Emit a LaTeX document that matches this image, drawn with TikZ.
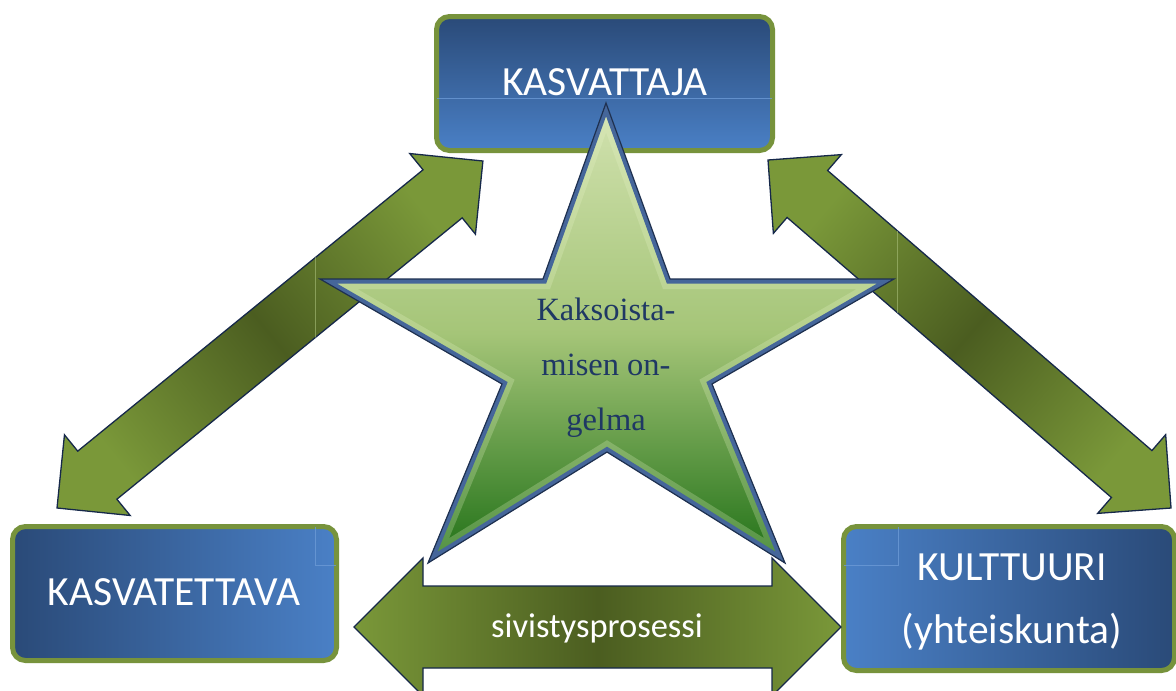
\documentclass[tikz,border=0pt]{standalone}
\usepackage{fontspec}
\setmainfont{Liberation Serif}
\newfontfamily\calib{Carlito}
\definecolor{boxgreen}{HTML}{77933C}
\definecolor{bluedark}{HTML}{2A4A78}
\definecolor{bluelight}{HTML}{4A80C6}
\definecolor{arrlight}{HTML}{7A9839}
\definecolor{arrdark}{HTML}{4B5D20}
\definecolor{arrline}{HTML}{16284A}
\definecolor{startop}{HTML}{D2E2B0}
\definecolor{starmid}{HTML}{A5C578}
\definecolor{starbot}{HTML}{1F7016}
\definecolor{starrim}{HTML}{45669A}
\definecolor{starline}{HTML}{1E3050}
\definecolor{starhi}{HTML}{E8F5C8}
\definecolor{startxt}{HTML}{1F3864}
\definecolor{gloss}{HTML}{6C9AD6}
\definecolor{arrgloss}{HTML}{A9BF7A}
\tikzset{
  boxnode/.style={draw=boxgreen, line width=5pt, rounded corners=13pt, inner sep=0pt, rectangle},
  boxtext/.style={text=white, font=\calib\fontsize{41.5}{48}\selectfont, anchor=base, inner sep=0pt},
  arrowshape/.style={draw=arrline, line width=1.3pt, line join=miter},
  startextstyle/.style={text=startxt, font=\fontsize{32.5}{38}\selectfont, anchor=base, inner sep=0pt},
  glossline/.style={draw=gloss, line width=0.8pt, opacity=0.8},
  arrglossline/.style={draw=arrgloss, line width=0.8pt, opacity=0.6},
}
\begin{document}
\begin{tikzpicture}[x=1pt,y=-1pt]
\fill[white] (0,0) rectangle (1176,691);
\useasboundingbox (0,0) rectangle (1176,691);
\clip (0,0) rectangle (1176,691);

% ---------- boxes ----------
\node[boxnode, minimum width=336pt, minimum height=134pt, top color=bluedark, bottom color=bluelight] (kasvattaja) at (604.5,83.5) {};
\node[boxnode, minimum width=324pt, minimum height=134pt, left color=bluedark, right color=bluelight] (kasvatettava) at (174.5,593.5) {};
\node[boxnode, minimum width=331pt, minimum height=144pt, left color=bluelight, right color=bluedark] (kulttuuri) at (1009,598.5) {};

% faint gloss lines of the boxes
\draw[glossline] (437,98) -- (772,98);
\draw[glossline] (315,527) -- (315,565) -- (336,565);
\draw[glossline] (898,527) -- (898,565) -- (844,565);

% ---------- arrow corner coordinates ----------
\begin{scope}[shift={(57,508)}, rotate=39.17]
  \coordinate (la0) at (0,0);
  \coordinate (la1) at (52,52);
  \coordinate (la2) at (52,31);
  \coordinate (la3) at (497.4,31);
  \coordinate (la4) at (497.4,52);
  \coordinate (la5) at (549.4,0);
  \coordinate (la6) at (497.4,-52);
  \coordinate (la7) at (497.4,-31);
  \coordinate (la8) at (52,-31);
  \coordinate (la9) at (52,-52);
\end{scope}
\begin{scope}[shift={(768,160)}, rotate=-40.81]
  \coordinate (ra0) at (0,0);
  \coordinate (ra1) at (52,52);
  \coordinate (ra2) at (52,31);
  \coordinate (ra3) at (480.5,31);
  \coordinate (ra4) at (480.5,52);
  \coordinate (ra5) at (532.5,0);
  \coordinate (ra6) at (480.5,-52);
  \coordinate (ra7) at (480.5,-31);
  \coordinate (ra8) at (52,-31);
  \coordinate (ra9) at (52,-52);
\end{scope}
\coordinate (ba0) at (354,627);
\coordinate (ba1) at (423,558);
\coordinate (ba2) at (423,586);
\coordinate (ba3) at (772,586);
\coordinate (ba4) at (772,558);
\coordinate (ba5) at (841,627);
\coordinate (ba6) at (772,696);
\coordinate (ba7) at (772,668);
\coordinate (ba8) at (423,668);
\coordinate (ba9) at (423,696);

% ---------- arrows ----------
\draw[arrowshape, left color=arrlight, right color=arrlight, middle color=arrdark, shading angle=129.17]
  (la0) -- (la1) -- (la2) -- (la3) -- (la4) -- (la5) -- (la6) -- (la7) -- (la8) -- (la9) -- cycle;
\draw[arrowshape, left color=arrlight, right color=arrlight, middle color=arrdark, shading angle=49.19]
  (ra0) -- (ra1) -- (ra2) -- (ra3) -- (ra4) -- (ra5) -- (ra6) -- (ra7) -- (ra8) -- (ra9) -- cycle;
\draw[arrowshape, left color=arrlight, right color=arrlight, middle color=arrdark]
  (ba0) -- (ba1) -- (ba2) -- (ba3) -- (ba4) -- (ba5) -- (ba6) -- (ba7) -- (ba8) -- (ba9) -- cycle;

% faint gloss lines in the diagonal arrows
\begin{scope}
  \clip (la0) -- (la1) -- (la2) -- (la3) -- (la4) -- (la5) -- (la6) -- (la7) -- (la8) -- (la9) -- cycle;
  \draw[arrglossline] (315,200) -- (315,400);
\end{scope}
\begin{scope}
  \clip (ra0) -- (ra1) -- (ra2) -- (ra3) -- (ra4) -- (ra5) -- (ra6) -- (ra7) -- (ra8) -- (ra9) -- cycle;
  \draw[arrglossline] (897,200) -- (897,400);
\end{scope}

% ---------- star ----------
\coordinate (sA) at (606,103);
\coordinate (sB) at (670,279);
\coordinate (sC) at (894,279);
\coordinate (sD) at (712,384);
\coordinate (sE) at (785,563);
\coordinate (sF) at (607,452);
\coordinate (sG) at (428,563);
\coordinate (sH) at (502,384);
\coordinate (sI) at (320,279);
\coordinate (sJ) at (543,279);
\begin{scope}
  \clip (sA) -- (sB) -- (sC) -- (sD) -- (sE) -- (sF) -- (sG) -- (sH) -- (sI) -- (sJ) -- cycle;
  \fill[top color=startop, bottom color=starbot, middle color=starmid]
    (sA) -- (sB) -- (sC) -- (sD) -- (sE) -- (sF) -- (sG) -- (sH) -- (sI) -- (sJ) -- cycle;
  \draw[starhi, line width=20pt, opacity=0.25, line join=miter, miter limit=20]
    (sA) -- (sB) -- (sC) -- (sD) -- (sE) -- (sF) -- (sG) -- (sH) -- (sI) -- (sJ) -- cycle;
  \draw[starrim, line width=9pt, line join=miter, miter limit=20]
    (sA) -- (sB) -- (sC) -- (sD) -- (sE) -- (sF) -- (sG) -- (sH) -- (sI) -- (sJ) -- cycle;
\end{scope}
\draw[starline, line width=1.2pt, line join=miter, miter limit=20]
  (sA) -- (sB) -- (sC) -- (sD) -- (sE) -- (sF) -- (sG) -- (sH) -- (sI) -- (sJ) -- cycle;

% ---------- texts ----------
\node[boxtext] (t1) at (605,95) {KASVATTAJA};
\node[boxtext] (t2) at (174,605) {KASVATETTAVA};
\node[boxtext] (t3) at (1012,580) {KULTTUURI};
\node[boxtext] (t4) at (1012,643) {(yhteiskunta)};
\node[boxtext, font=\calib\fontsize{34.5}{40}\selectfont] (t5) at (597,637) {sivistysprosessi};
\node[startextstyle] (s1) at (606,320) {Kaksoista-};
\node[startextstyle] (s2) at (606,375) {misen on-};
\node[startextstyle] (s3) at (606,430) {gelma};
\end{tikzpicture}
\end{document}
